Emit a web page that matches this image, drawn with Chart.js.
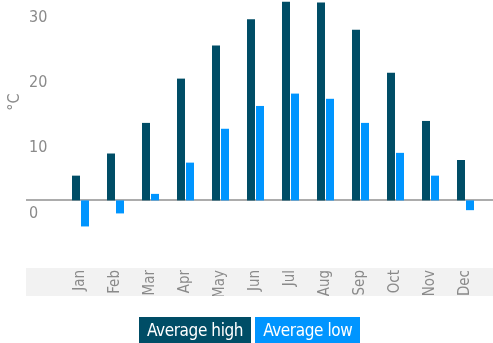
<!DOCTYPE html>
<html>
<head>
<meta charset="utf-8">
<script src="https://cdn.jsdelivr.net/npm/chart.js@4/dist/chart.umd.min.js"></script>
<style>
  html, body { margin:0; padding:0; background:#fff; }
  #wrap { position:relative; width:493px; height:343px; }
  #legend { position:absolute; left:139px; top:317px; display:flex; gap:4px; }
  #legend .item {
    height:26px; line-height:27px; padding:0 8px; color:#fff;
    font-family:"DejaVu Sans Condensed", "DejaVu Sans", sans-serif;
    font-size:17px; letter-spacing:-0.4px; white-space:nowrap;
  }
</style>
</head>
<body>
<div id="wrap">
  <canvas id="climate-chart" width="493" height="343"></canvas>
  <div id="legend"></div>
</div>
<script>
// ── Monthly temperatures (°C) ───────────────────────────
const months = ['Jan', 'Feb', 'Mar', 'Apr', 'May', 'Jun', 'Jul', 'Aug', 'Sep', 'Oct', 'Nov', 'Dec'];
const avgHigh = [3.8, 7.2, 11.9, 18.7, 23.8, 27.8, 30.5, 30.4, 26.2, 19.6, 12.2, 6.2];
const avgLow = [-4.0, -2.0, 1.0, 5.8, 11.0, 14.5, 16.4, 15.6, 11.9, 7.3, 3.8, -1.5];
const yTicks = [0, 10, 20, 30];

const FONT = '"DejaVu Sans Condensed", "DejaVu Sans", sans-serif';
const GREY = '#8a8a8a';

// grey band behind the month labels + the zero line, both run past the plot edges
const axisDecor = {
  id: 'axisDecor',
  beforeDraw(chart) {
    const { ctx, scales: { x, y } } = chart;
    ctx.save();
    ctx.fillStyle = '#f2f2f2';
    ctx.fillRect(26, x.top, chart.width - 26, x.bottom - x.top);
    const y0 = Math.round(y.getPixelForValue(0));
    ctx.fillStyle = '#acacac';
    ctx.fillRect(26, y0 - 1, chart.width - 26, 2);
    ctx.restore();
  },
  afterDraw(chart) {
    // unit label on the left
    const { ctx } = chart;
    ctx.save();
    ctx.translate(15, 102);
    ctx.rotate(-Math.PI / 2);
    ctx.font = '16px ' + FONT;
    ctx.fillStyle = GREY;
    ctx.textAlign = 'center';
    ctx.textBaseline = 'middle';
    ctx.fillText('°C', 0, 0);
    ctx.restore();
  }
};

// legend as coloured boxes with the label inside
const htmlLegend = {
  id: 'htmlLegend',
  afterUpdate(chart) {
    const box = document.getElementById('legend');
    box.innerHTML = '';
    chart.data.datasets.forEach(ds => {
      const item = document.createElement('div');
      item.className = 'item';
      item.style.background = ds.backgroundColor;
      item.textContent = ds.label;
      box.appendChild(item);
    });
  }
};

new Chart(document.getElementById('climate-chart'), {
  type: 'bar',
  data: {
    labels: months,
    datasets: [
      { label: 'Average high', data: avgHigh, backgroundColor: '#004d66' },
      { label: 'Average low', data: avgLow, backgroundColor: '#0095ff' }
    ]
  },
  options: {
    responsive: false,
    animation: false,
    layout: { padding: { left: 29, right: 10, top: 0, bottom: 47 } },
    categoryPercentage: 18 / 35,
    barPercentage: 8 / 9,
    plugins: {
      legend: { display: false },
      tooltip: { enabled: false }
    },
    scales: {
      x: {
        grid: { display: false, drawTicks: false },
        border: { display: false },
        ticks: {
          color: GREY, font: { family: FONT, size: 15 },
          minRotation: 90, maxRotation: 90, padding: 2, autoSkip: false
        },
        afterFit(s) { s.height = 28; s.paddingLeft = 0; s.paddingRight = 0; }
      },
      y: {
        min: -10.38,
        max: 30.77,
        grid: { display: false, drawTicks: false },
        border: { display: false },
        afterBuildTicks(s) { s.ticks = yTicks.map(v => ({ value: v })); },
        ticks: {
          color: GREY, font: { family: FONT, size: 16 },
          crossAlign: 'far', labelOffset: 13, padding: 0
        },
        afterFit(s) { s.width = 34; s.paddingTop = 0; s.paddingBottom = 0; }
      }
    }
  },
  plugins: [axisDecor, htmlLegend]
});
</script>
</body>
</html>
